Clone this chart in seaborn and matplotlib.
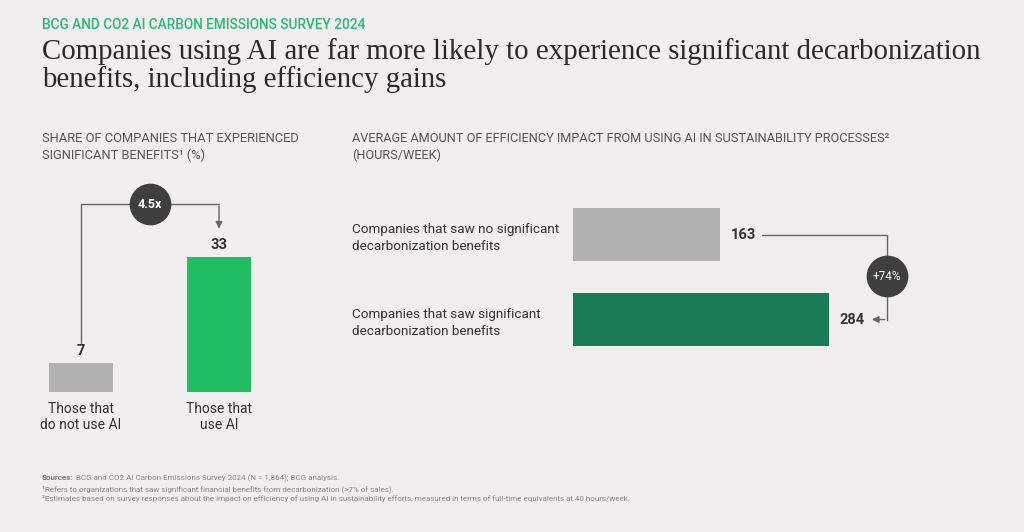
import seaborn as sns
import matplotlib.pyplot as plt
import pandas as pd

# data
left_cats = ['Those that\ndo not use AI', 'Those that\nuse AI']
left_vals = [7, 33]
left_mult = '4.5x'

right_cats = ['Companies that saw no significant\ndecarbonization benefits',
              'Companies that saw significant\ndecarbonization benefits']
right_vals = [163, 284]
right_change = '+74%'

bg = '#f0eeef'
gray = '#b1b1b1'
green = '#21bf61'
dkgreen = '#197a56'
dark = '#3f3f3f'
line = '#666666'
sans = ['Roboto', 'DejaVu Sans']

sns.set_theme(style='white')
plt.rcParams['font.family'] = sans

fig = plt.figure(figsize=(10.24, 5.32), dpi=100, facecolor=bg)
W, H = 1024, 532

def px(x, y):
    return x / W, 1 - y / H

# header
fig.text(*px(42, 25), 'BCG AND CO2 AI CARBON EMISSIONS SURVEY 2024', color='#29ba74',
         fontsize=9.8, fontweight='medium', va='center')
fig.text(*px(42, 52), 'Companies using AI are far more likely to experience significant decarbonization',
         fontsize=20.8, va='center', color='#2a2a2a', family='Liberation Serif')
fig.text(*px(42, 80), 'benefits, including efficiency gains',
         fontsize=20.8, va='center', color='#2a2a2a', family='Liberation Serif')

fig.text(*px(42, 147), 'SHARE OF COMPANIES THAT EXPERIENCED\nSIGNIFICANT BENEFITS\u00b9 (%)',
         fontsize=9.3, color='#555555', va='center', linespacing=1.3)
fig.text(*px(352, 147), 'AVERAGE AMOUNT OF EFFICIENCY IMPACT FROM USING AI IN SUSTAINABILITY PROCESSES\u00b2\n(HOURS/WEEK)',
         fontsize=9.2, color='#555555', va='center', linespacing=1.3)

# footnotes
src = fig.text(*px(42, 478), 'Sources:', fontsize=5.8, color='#777777',
               fontweight='bold', va='center')
r = fig.canvas.get_renderer()
x_end = src.get_window_extent(r).x1
fig.text(x_end / W + 3 / W, 1 - 478 / H,
         'BCG and CO2 AI Carbon Emissions Survey 2024 (N = 1,864); BCG analysis.',
         fontsize=5.8, color='#888888', va='center')
fig.text(*px(42, 489), '\u00b9Refers to organizations that saw significant financial benefits from decarbonization (>7% of sales).',
         fontsize=5.8, color='#888888', va='center')
fig.text(*px(42, 499), '\u00b2Estimates based on survey responses about the impact on efficiency of using AI in sustainability efforts, measured in terms of full-time equivalents at 40 hours/week.',
         fontsize=5.8, color='#888888', va='center')

# left chart
axl = fig.add_axes([12 / W, (H - 392) / H, 276 / W, 241 / H])
axl.set_facecolor(bg)
dfl = pd.DataFrame({'cat': left_cats, 'val': left_vals})
sns.barplot(data=dfl, x='cat', y='val', hue='cat', palette=[gray, green],
            width=0.46, legend=False, ax=axl, saturation=1, linewidth=0)
axl.set_xlim(-0.5, 1.5)
axl.set_ylim(0, 59)
for i, v in enumerate(left_vals):
    axl.text(i, v + 3, str(v), ha='center', va='center', fontsize=10.5,
             fontweight='bold', color='#333333')
axl.plot([0, 0, 1], [12, 46, 46], color=line, lw=1)
axl.annotate('', xy=(1, 39.3), xytext=(1, 46.2),
             arrowprops=dict(arrowstyle='-|>', color=line, lw=1, mutation_scale=10))
axl.plot([0.5], [46], marker='o', markersize=29, color=dark)
axl.text(0.5, 46, left_mult, ha='center', va='center', color='white',
         fontsize=9, fontweight='bold')
axl.set_xlabel('')
axl.set_ylabel('')
axl.set_yticks([])
axl.tick_params(axis='x', length=0, pad=7, labelsize=10, labelcolor='#333333')
sns.despine(ax=axl, left=True, bottom=True)

# right chart
axr = fig.add_axes([573 / W, (H - 359.5) / H, 360 / W, 159 / H])
axr.set_facecolor('none')
dfr = pd.DataFrame({'cat': right_cats, 'val': right_vals})
sns.barplot(data=dfr, y='cat', x='val', hue='cat', palette=[gray, dkgreen],
            width=0.62, legend=False, ax=axr, saturation=1, orient='h', linewidth=0)
axr.set_xlim(0, 400)
axr.set_ylim(1.47, -0.4)
for i, v in enumerate(right_vals):
    axr.text(v + 12, i, str(v), ha='left', va='center', fontsize=10.5,
             fontweight='bold', color='#333333')
axr.plot([210, 349, 349], [0, 0, 1], color=line, lw=1)
axr.annotate('', xy=(329, 1), xytext=(349.5, 1),
             arrowprops=dict(arrowstyle='-|>', color=line, lw=1, mutation_scale=10))
axr.plot([349], [0.49], marker='o', markersize=29, color=dark)
axr.text(349, 0.49, right_change, ha='center', va='center', color='white', fontsize=8.5)
axr.set_xlabel('')
axr.set_ylabel('')
axr.set_xticks([])
axr.tick_params(axis='y', length=0, pad=159, labelsize=9.7, labelcolor='#333333')
for lab in axr.get_yticklabels():
    lab.set_horizontalalignment('left')
    lab.set_linespacing(1.35)
sns.despine(ax=axr, left=True, bottom=True)

fig.savefig('out.png', dpi=100, facecolor=bg)
